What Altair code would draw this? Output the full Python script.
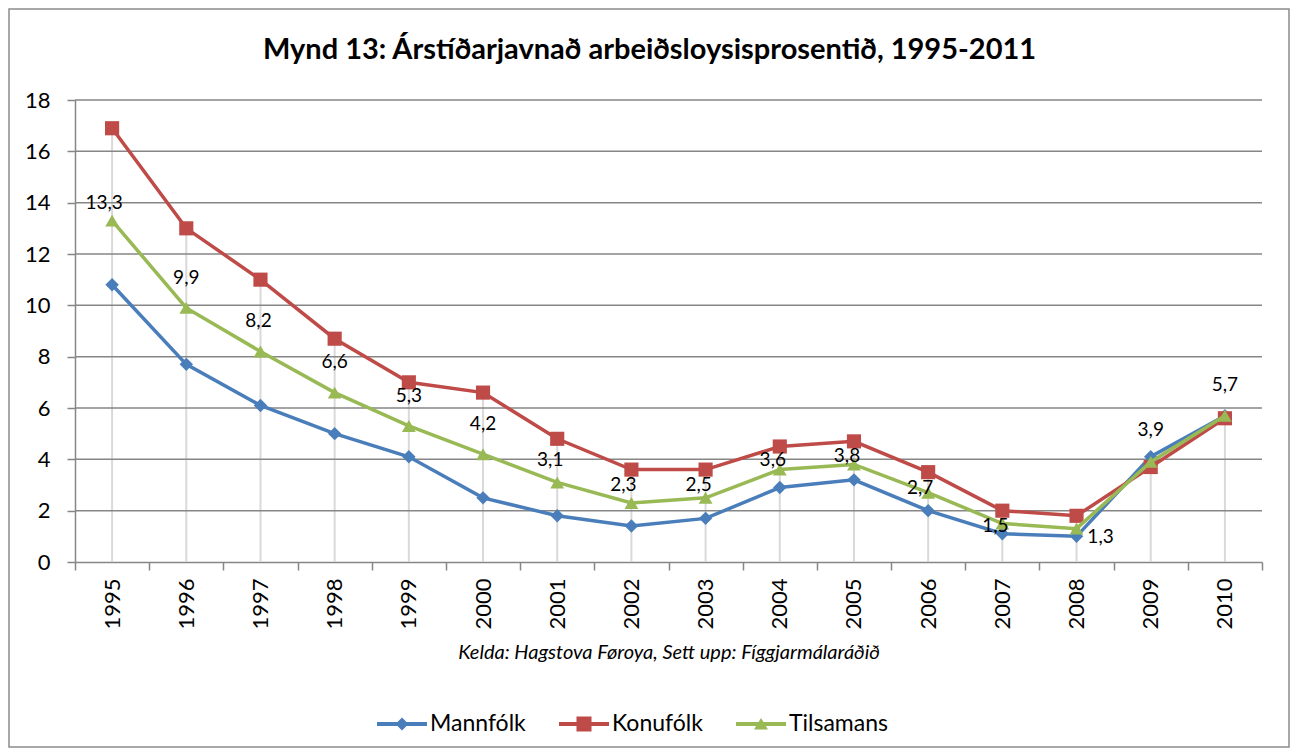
import altair as alt
import pandas as pd

# ---------------- data ----------------
years = [str(y) for y in range(1995, 2011)]
mannfolk = [10.8, 7.7, 6.1, 5.0, 4.1, 2.5, 1.8, 1.4, 1.7, 2.9, 3.2, 2.0, 1.1, 1.0, 4.1, 5.7]
konufolk = [16.9, 13.0, 11.0, 8.7, 7.0, 6.6, 4.8, 3.6, 3.6, 4.5, 4.7, 3.5, 2.0, 1.8, 3.7, 5.6]
tilsamans = [13.3, 9.9, 8.2, 6.6, 5.3, 4.2, 3.1, 2.3, 2.5, 3.6, 3.8, 2.7, 1.5, 1.3, 3.9, 5.7]
series_names = ["Mannfólk", "Konufólk", "Tilsamans"]
y_ticks = [0, 2, 4, 6, 8, 10, 12, 14, 16, 18]

title_text = "Mynd 13: Árstíðarjavnað arbeiðsloysisprosentið, 1995-2011"
source_text = "Kelda: Hagstova Føroya, Sett upp: Fíggjarmálaráðið"

# ---------------- styles ----------------
colors = ["#4A7EBB", "#BE4B48", "#98B954"]
point_shapes = ["diamond", "square", "triangle-up"]
point_sizes = [180, 200, 190]
legend_paths = [
    "M-1,-0.08H1V0.08H-1Z M0,-0.26L0.26,0L0,0.26L-0.26,0Z",
    "M-1,-0.08H1V0.08H-1Z M-0.3,-0.3H0.3V0.3H-0.3Z",
    "M-1,-0.08H1V0.08H-1Z M0,-0.24L0.28,0.22L-0.28,0.22Z",
]
# label offsets (dx, dy) in pixels for the Tilsamans data labels
label_offsets = [(-8, -18), (0, -30), (-2, -31), (0, -31), (0, -30), (0, -30),
                 (-7, -22), (-8, -18), (-7, -13), (-7, -10), (-7, -8), (-8, -5),
                 (-7, 2), (24, 8), (0, -32), (0, -31)]
FONT = "Lato"
AXIS_GRAY = "#868686"

# ---------------- tables ----------------
rows = []
for name, vals in zip(series_names, [mannfolk, konufolk, tilsamans]):
    for yr, v in zip(years, vals):
        rows.append({"year": yr, "series": name, "value": v,
                     "label": f"{v:.1f}".replace(".", ",")})
df_long = pd.DataFrame(rows)

wide = pd.DataFrame({"year": years, "m": mannfolk, "k": konufolk, "t": tilsamans})
wide["top"] = wide[["m", "k", "t"]].max(axis=1)

grid_df = pd.DataFrame({"tick": [t for t in y_ticks if t > 0]})

# ---------------- encodings ----------------
x_scale = alt.Scale(type="band", domain=years, paddingInner=0, paddingOuter=0)
y_scale = alt.Scale(domain=[0, 18], nice=False)

x_axis = alt.Axis(
    title=source_text, titleFont=FONT, titleFontStyle="italic", titleFontWeight="normal",
    titleFontSize=20, titleColor="black", titlePadding=13,
    labelAngle=-90, labelFont=FONT, labelFontSize=22, labelColor="black", labelPadding=8,
    tickBand="extent", tickSize=8, tickColor=AXIS_GRAY, tickWidth=1.5,
    domainColor=AXIS_GRAY, domainWidth=1.5, grid=False,
)
y_axis = alt.Axis(
    values=y_ticks, title=None, grid=False,
    labelFont=FONT, labelFontSize=22, labelColor="black", labelPadding=17,
    tickSize=8, tickColor=AXIS_GRAY, tickWidth=1.5,
    domainColor=AXIS_GRAY, domainWidth=1.5,
)

x_enc = alt.X("year:O", scale=x_scale, axis=x_axis)


def y_enc(field):
    return alt.Y(f"{field}:Q", scale=y_scale, axis=y_axis)


# ---------------- layers ----------------
drop = alt.Chart(wide).mark_rule(color="#D9D9D9", strokeWidth=2).encode(
    x=x_enc, y=y_enc("top"), y2=alt.datum(0)
)

grid = alt.Chart(grid_df).mark_rule(color=AXIS_GRAY, strokeWidth=1.5).encode(
    y=alt.Y("tick:Q", scale=y_scale, axis=y_axis)
)

layers = [drop, grid]
for name, col, shp, sz in zip(series_names, colors, point_shapes, point_sizes):
    sub = alt.Chart(df_long).transform_filter(alt.datum.series == name)
    layers.append(sub.mark_line(color=col, strokeWidth=3.5).encode(x=x_enc, y=y_enc("value")))
    layers.append(sub.mark_point(filled=True, shape=shp, size=sz, color=col, opacity=1,
                                 strokeWidth=0).encode(x=x_enc, y=y_enc("value")))

for yr, (dx, dy) in zip(years, label_offsets):
    layers.append(
        alt.Chart(df_long)
        .transform_filter((alt.datum.series == "Tilsamans") & (alt.datum.year == yr))
        .mark_text(font=FONT, fontSize=19, color="black", dx=dx, dy=dy, baseline="middle")
        .encode(x=x_enc, y=y_enc("value"), text="label:N")
    )

leg = alt.Legend(
    title=None, orient="none", legendX=302, legendY=599, direction="horizontal",
    symbolSize=2500, symbolStrokeWidth=0, symbolOpacity=1,
    labelFont=FONT, labelFontSize=23, labelColor="black", labelOffset=3, columnPadding=33,
)
legend_layer = (
    alt.Chart(df_long)
    .transform_filter(alt.datum.value < 0)
    .mark_point(filled=True, opacity=1)
    .encode(
        x=x_enc, y=y_enc("value"),
        color=alt.Color("series:N", scale=alt.Scale(domain=series_names, range=colors), legend=leg),
        shape=alt.Shape("series:N", scale=alt.Scale(domain=series_names, range=legend_paths), legend=leg),
    )
)
layers.append(legend_layer)

border = alt.Chart(pd.DataFrame({"a": [0]})).mark_rect(
    fillOpacity=0, stroke="#8C8C8C", strokeWidth=1.5
).encode(x=alt.value(-66), x2=alt.value(1214), y=alt.value(-91), y2=alt.value(647))
layers.append(border)

chart = (
    alt.layer(*layers)
    .properties(
        width=1187, height=462,
        title=alt.TitleParams(title_text, font=FONT, fontSize=29, fontWeight="bold",
                              color="black", offset=-57, anchor="middle", frame="group",
                              dx=-19),
        autosize=alt.AutoSizeParams(type="none"),
        padding={"left": 67, "top": 92, "right": 28, "bottom": 186},
    )
    .configure_view(stroke=None)
)

chart.save("out.html", embed_options={"renderer": "svg", "actions": False})
